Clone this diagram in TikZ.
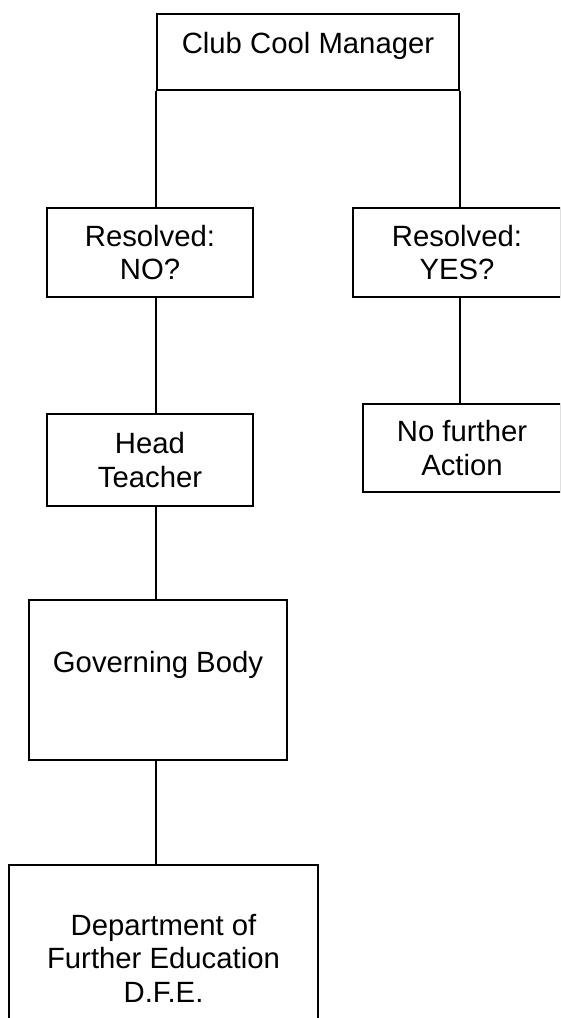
\documentclass[tikz,border=0pt]{standalone}
\usepackage{fontspec}
\setmainfont{Liberation Sans}
\usepackage{tikz}
\usetikzlibrary{positioning}

\newcommand{\chartfont}{\fontsize{29.3}{33.5}\selectfont}

\begin{document}
\begin{tikzpicture}[
  x=1pt, y=-1pt,
  box/.style={draw, line width=2pt, inner sep=0pt, font=\chartfont},
  multi/.style={box, align=center},
  link/.style={line width=2pt}
]
\useasboundingbox (0,0) rectangle (560,1018);
\clip (0,0) rectangle (560,1018);

% Boxes
\node[box, minimum width=302pt, minimum height=76pt, text depth=17.4pt]
  (M) at (308,52) {Club Cool Manager};
\node[multi, minimum width=206pt, minimum height=89pt]
  (N) at (150,252.5) {Resolved:\\NO?};
\node[multi, minimum width=208pt, minimum height=89pt]
  (Y) at (457,252.5) {Resolved:\\YES?};
\node[multi, minimum width=206pt, minimum height=92pt]
  (H) at (150,460) {Head\\Teacher};
\node[multi, minimum width=198pt, minimum height=88pt]
  (A) at (462,448) {No further\\Action};
\node[box, minimum width=258pt, minimum height=160pt, text depth=35.4pt]
  (G) at (158,680) {Governing Body};
\node[multi, minimum width=309pt, minimum height=186pt, anchor=north]
  (D) at (163.5,864) {Department of\\Further Education\\D.F.E.};

% Connectors
\draw[link] (M.south west) -- (N.north -| M.south west);
\draw[link] (M.south east) -- (Y.north -| M.south east);
\draw[link] (N.south -| M.south west) -- (H.north -| M.south west);
\draw[link] (Y.south -| M.south east) -- (A.north -| M.south east);
\draw[link] (H.south -| M.south west) -- (G.north -| M.south west);
\draw[link] (G.south -| M.south west) -- (D.north -| M.south west);
\end{tikzpicture}
\end{document}
